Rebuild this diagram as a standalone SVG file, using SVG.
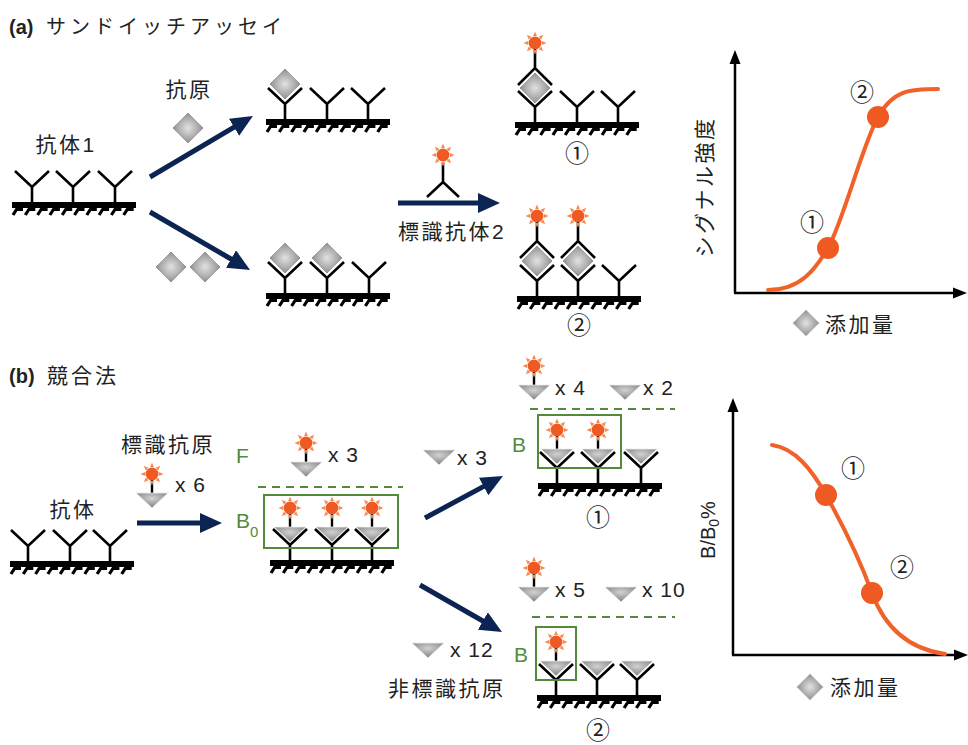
<svg xmlns="http://www.w3.org/2000/svg" xmlns:xlink="http://www.w3.org/1999/xlink" width="968" height="745" viewBox="0 0 968 745">
<style>
  .t { font-family: "Liberation Sans", "Noto Sans CJK JP", sans-serif; fill: #222; }
  .jp { font-size: 21px; letter-spacing: 2.5px; }
  .num { font-size: 21px; letter-spacing: 1px; }
  .circ { font-family: "Noto Sans CJK JP", sans-serif; font-size: 24px; fill: #222; text-anchor: middle; }
  .grn { fill: #548a3c; font-size: 21px; }
  .arrow { stroke: #0c2452; stroke-width: 5; fill: none; marker-end: url(#ah); }
  .axis { stroke: #000; stroke-width: 2.5; fill: none; }
  .curve { stroke: #f0622a; stroke-width: 4; fill: none; stroke-linecap: round; }
  .dot { fill: #ef5a22; }
  .box { fill: none; stroke: #548a3c; stroke-width: 2; }
  .dash { stroke: #548a3c; stroke-width: 2; stroke-dasharray: 8 6; }
  .ab { stroke: #000; stroke-width: 2.6; fill: none; }
</style>
<defs>
  <radialGradient id="gd" cx="0.5" cy="0.5" r="0.6">
    <stop offset="0" stop-color="#e2e2e2"/>
    <stop offset="1" stop-color="#7a7a7a"/>
  </radialGradient>
  <radialGradient id="gt" cx="0.5" cy="0.35" r="0.6">
    <stop offset="0" stop-color="#d2d2d2"/>
    <stop offset="1" stop-color="#858585"/>
  </radialGradient>
  <marker id="ah" viewBox="0 0 11 10" refX="3" refY="5" markerWidth="4.4" markerHeight="4" orient="auto" markerUnits="strokeWidth">
    <path d="M0,0 L11,5 L0,10 z" fill="#0c2452"/>
  </marker>
  <!-- enzyme label -->
  <g id="sun">
    <g fill="#f58b52">
      <polygon points="-1.9,-7 1.9,-7 0,-11.5"/>
      <polygon points="-1.9,-7 1.9,-7 0,-11.5" transform="rotate(45)"/>
      <polygon points="-1.9,-7 1.9,-7 0,-11.5" transform="rotate(90)"/>
      <polygon points="-1.9,-7 1.9,-7 0,-11.5" transform="rotate(135)"/>
      <polygon points="-1.9,-7 1.9,-7 0,-11.5" transform="rotate(180)"/>
      <polygon points="-1.9,-7 1.9,-7 0,-11.5" transform="rotate(225)"/>
      <polygon points="-1.9,-7 1.9,-7 0,-11.5" transform="rotate(270)"/>
      <polygon points="-1.9,-7 1.9,-7 0,-11.5" transform="rotate(315)"/>
    </g>
    <circle r="6.5" fill="#ef5a22"/>
  </g>
  <!-- antigen (diamond), origin at centre -->
  <polygon id="dia" points="0,-16 16,0 0,16 -16,0" fill="url(#gd)" stroke="#fff" stroke-width="1"/>
  <!-- antigen (triangle), origin at top centre -->
  <polygon id="tri" points="-16,0 16,0 0,15" fill="url(#gt)" stroke="#eee" stroke-width="0.8"/>
  <!-- labelled antigen: triangle with enzyme -->
  <g id="ltri">
    <line x1="0" y1="0" x2="0" y2="-13" stroke="#000" stroke-width="2.4"/>
    <use xlink:href="#sun" y="-19"/>
    <use xlink:href="#tri"/>
  </g>
  <!-- immobilised antibody, origin at stem base -->
  <path id="ab" class="ab" d="M-17,-31 L0,-15 L17,-31 M0,-15 V0"/>
  <!-- labelled second antibody, origin at apex -->
  <g id="lab2">
    <path class="ab" d="M-17,17 L0,0 L17,17 M0,0 V-19"/>
    <use xlink:href="#sun" y="-25"/>
  </g>
  <!-- solid phase -->
  <g id="plate">
    <rect x="0" y="0" width="124" height="6" fill="#000"/>
    <path fill="none" stroke="#000" stroke-width="3.2" d="M1,13 L4.5,7.5 H11 M13.3,13 L16.8,7.5 H23.3 M25.6,13 L29.1,7.5 H35.6 M37.9,13 L41.4,7.5 H47.9 M50.2,13 L53.7,7.5 H60.2 M62.5,13 L66,7.5 H72.5 M74.8,13 L78.3,7.5 H84.8 M87.1,13 L90.6,7.5 H97.1 M99.4,13 L102.9,7.5 H109.4 M111.7,13 L115.2,7.5 H121.7"/>
  </g>
</defs>

<rect width="968" height="745" fill="#fff"/>

<!-- ===== (a) sandwich assay ===== -->
<text class="t" x="9" y="34" font-size="20"><tspan font-weight="bold">(a)</tspan><tspan x="46" font-size="20" letter-spacing="4">サンドイッチアッセイ</tspan></text>

<g id="a-start">
  <text class="t jp" x="66" y="152" text-anchor="middle">抗体1</text>
  <use xlink:href="#plate" x="12" y="202"/>
  <use xlink:href="#ab" x="32" y="202"/>
  <use xlink:href="#ab" x="73" y="202"/>
  <use xlink:href="#ab" x="115" y="202"/>
</g>

<g id="a-antigen-low">
  <text class="t jp" x="189" y="97" text-anchor="middle">抗原</text>
  <use xlink:href="#dia" x="188" y="128"/>
</g>
<g id="a-antigen-high">
  <use xlink:href="#dia" x="171" y="267"/>
  <use xlink:href="#dia" x="205" y="267"/>
</g>

<g id="a-bound-1">
  <use xlink:href="#plate" x="266" y="119"/>
  <use xlink:href="#ab" x="285" y="119"/>
  <use xlink:href="#ab" x="327" y="119"/>
  <use xlink:href="#ab" x="368" y="119"/>
  <use xlink:href="#dia" x="285" y="84"/>
</g>

<g id="a-bound-2">
  <use xlink:href="#plate" x="266" y="293"/>
  <use xlink:href="#ab" x="285" y="293"/>
  <use xlink:href="#ab" x="327" y="293"/>
  <use xlink:href="#ab" x="369" y="293"/>
  <use xlink:href="#dia" x="285" y="258"/>
  <use xlink:href="#dia" x="327" y="258"/>
</g>

<g id="a-label-ab2">
  <path class="ab" d="M427,197 L443,182 L459,197 M443,182 V163"/>
  <use xlink:href="#sun" x="443" y="155"/>
  <text class="t jp" x="452" y="239" text-anchor="middle">標識抗体2</text>
</g>

<g id="a-result-1">
  <use xlink:href="#plate" x="515" y="122"/>
  <use xlink:href="#ab" x="535" y="122"/>
  <use xlink:href="#ab" x="577" y="122"/>
  <use xlink:href="#ab" x="618" y="122"/>
  <use xlink:href="#dia" x="535" y="88"/>
  <use xlink:href="#lab2" x="535" y="68"/>
  <text class="circ" x="577" y="162">①</text>
</g>

<g id="a-result-2">
  <use xlink:href="#plate" x="517" y="296"/>
  <use xlink:href="#ab" x="537" y="296"/>
  <use xlink:href="#ab" x="578" y="296"/>
  <use xlink:href="#ab" x="619" y="296"/>
  <use xlink:href="#dia" x="537" y="261"/>
  <use xlink:href="#dia" x="578" y="261"/>
  <use xlink:href="#lab2" x="537" y="241"/>
  <use xlink:href="#lab2" x="578" y="241"/>
  <text class="circ" x="579" y="334">②</text>
</g>

<g id="a-graph">
  <line class="axis" x1="735" y1="62" x2="735" y2="293"/>
  <polygon points="735,50 729.5,64 740.5,64"/>
  <line class="axis" x1="734" y1="293" x2="956" y2="293"/>
  <polygon points="967,293 953,287.5 953,298.5"/>
  <path class="curve" d="M768,290 C800,290 815,270 828,248 C843,222 862,146 878,117 C893,90 910,89 938,89"/>
  <circle class="dot" cx="828" cy="248" r="11"/>
  <circle class="dot" cx="878" cy="117" r="11"/>
  <text class="circ" x="812" y="231">①</text>
  <text class="circ" x="862" y="101">②</text>
  <text class="t jp" transform="translate(712,187) rotate(-90)" text-anchor="middle" letter-spacing="2">シグナル強度</text>
  <use xlink:href="#dia" transform="translate(806,323) scale(0.85)"/>
  <text class="t jp" x="825" y="332" font-size="22">添加量</text>
</g>

<!-- ===== (b) competitive assay ===== -->
<text class="t" x="9" y="383" font-size="20"><tspan font-weight="bold">(b)</tspan><tspan x="47" font-size="21" letter-spacing="3">競合法</tspan></text>

<g id="b-start">
  <text class="t jp" x="73" y="517" text-anchor="middle">抗体</text>
  <use xlink:href="#plate" x="10" y="561"/>
  <use xlink:href="#ab" x="28" y="561"/>
  <use xlink:href="#ab" x="70" y="561"/>
  <use xlink:href="#ab" x="110" y="561"/>
</g>

<g id="b-labelled-antigen">
  <text class="t jp" x="168" y="452" text-anchor="middle">標識抗原</text>
  <use xlink:href="#ltri" x="152" y="493"/>
  <text class="t num" x="175" y="492">x 6</text>
</g>

<g id="b-zero">
  <text class="t grn" x="236" y="463">F</text>
  <use xlink:href="#ltri" x="306" y="462"/>
  <text class="t num" x="328" y="462">x 3</text>
  <line class="dash" x1="258" y1="487" x2="403" y2="487"/>
  <text class="t grn" x="236" y="528">B<tspan font-size="15" dy="9">0</tspan></text>
  <use xlink:href="#plate" x="270" y="560"/>
  <use xlink:href="#ab" x="290" y="560"/>
  <use xlink:href="#ab" x="332" y="560"/>
  <use xlink:href="#ab" x="372" y="560"/>
  <use xlink:href="#ltri" x="290" y="527"/>
  <use xlink:href="#ltri" x="332" y="527"/>
  <use xlink:href="#ltri" x="372" y="527"/>
  <rect class="box" x="264" y="495" width="134" height="53"/>
</g>

<g id="b-add-low">
  <use xlink:href="#tri" x="439" y="450"/>
  <text class="t num" x="457" y="465">x 3</text>
</g>

<g id="b-result-1">
  <use xlink:href="#ltri" x="534" y="385"/>
  <text class="t num" x="555" y="395">x 4</text>
  <use xlink:href="#tri" x="625" y="385"/>
  <text class="t num" x="643" y="395">x 2</text>
  <line class="dash" x1="530" y1="409" x2="675" y2="409"/>
  <text class="t grn" x="512" y="452">B</text>
  <use xlink:href="#plate" x="538" y="483"/>
  <use xlink:href="#ab" x="557" y="483"/>
  <use xlink:href="#ab" x="598" y="483"/>
  <use xlink:href="#ab" x="641" y="483"/>
  <use xlink:href="#ltri" x="557" y="449"/>
  <use xlink:href="#ltri" x="598" y="449"/>
  <use xlink:href="#tri" x="641" y="449"/>
  <rect class="box" x="538" y="415" width="83" height="53"/>
  <text class="circ" x="598" y="526">①</text>
</g>

<g id="b-add-high">
  <use xlink:href="#tri" x="428" y="643"/>
  <text class="t num" x="450" y="657">x 12</text>
  <text class="t jp" x="388" y="696">非標識抗原</text>
</g>

<g id="b-result-2">
  <use xlink:href="#ltri" x="534" y="587"/>
  <text class="t num" x="555" y="597">x 5</text>
  <use xlink:href="#tri" x="621" y="587"/>
  <text class="t num" x="642" y="597">x 10</text>
  <line class="dash" x1="532" y1="617" x2="675" y2="617"/>
  <text class="t grn" x="514" y="662">B</text>
  <use xlink:href="#plate" x="537" y="695"/>
  <use xlink:href="#ab" x="556" y="695"/>
  <use xlink:href="#ab" x="597" y="695"/>
  <use xlink:href="#ab" x="637" y="695"/>
  <use xlink:href="#ltri" x="556" y="661"/>
  <use xlink:href="#tri" x="597" y="661"/>
  <use xlink:href="#tri" x="637" y="661"/>
  <rect class="box" x="536" y="627" width="40" height="53"/>
  <text class="circ" x="598" y="739" font-size="22">②</text>
</g>

<g id="b-graph">
  <line class="axis" x1="733" y1="410" x2="733" y2="655"/>
  <polygon points="733,398 727.5,412 738.5,412"/>
  <line class="axis" x1="732" y1="655" x2="957" y2="655"/>
  <polygon points="968,655 954,649.5 954,660.5"/>
  <path class="curve" d="M772,445 C795,448 812,470 826,495 C840,520 860,560 872,593 C882,620 902,648 945,654"/>
  <circle class="dot" cx="826" cy="495" r="11"/>
  <circle class="dot" cx="872" cy="593" r="11"/>
  <text class="circ" x="853" y="477">①</text>
  <text class="circ" x="902" y="576">②</text>
  <text class="t" transform="translate(715,530) rotate(-90)" text-anchor="middle" font-size="20">B/B<tspan font-size="14" dy="4">0</tspan><tspan dy="-4">%</tspan></text>
  <use xlink:href="#dia" transform="translate(810,687) scale(0.85)"/>
  <text class="t jp" x="830" y="695" font-size="22">添加量</text>
</g>

<!-- reaction arrows -->
<g id="connectors">
  <line class="arrow" x1="150" y1="177" x2="239.2" y2="124.2"/>
  <line class="arrow" x1="150" y1="212" x2="236.2" y2="262"/>
  <line class="arrow" x1="398" y1="203" x2="484" y2="203"/>
  <line class="arrow" x1="137" y1="523" x2="206" y2="523"/>
  <line class="arrow" x1="425" y1="518" x2="488.9" y2="483.6"/>
  <line class="arrow" x1="420" y1="585" x2="488.1" y2="624"/>
</g>
</svg>
